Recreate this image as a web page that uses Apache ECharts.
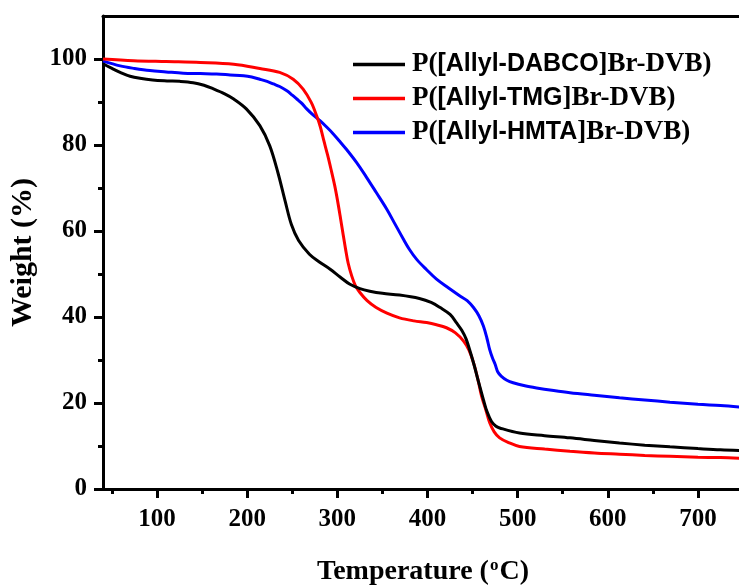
<!DOCTYPE html>
<html>
<head>
<meta charset="utf-8">
<script src="https://cdn.jsdelivr.net/npm/echarts@6/dist/echarts.min.js"></script>
<style>html,body{margin:0;padding:0;background:#fff;}#chart{width:739px;height:586px;}</style>
</head>
<body>
<div id="chart"></div>
<script>
// ---- data ----
var seriesNames = ['P([Allyl-DABCO]Br-DVB)', 'P([Allyl-TMG]Br-DVB)', 'P([Allyl-HMTA]Br-DVB)'];
var seriesColors = ['#000000', '#ff0000', '#0000ff'];

var dabcoT = [40, 50, 59, 70, 81, 95, 111, 125, 140, 152, 162, 175, 185, 199, 214, 225, 234, 242, 249, 257, 269, 280, 292, 303, 314, 325, 336, 350, 369, 391, 404, 414, 425, 432, 438, 443, 448, 452, 457, 462, 466, 471, 476, 480, 502, 530, 558, 585, 613, 641, 669, 700, 725, 750];
var dabcoW = [98.9, 97.8, 96.9, 96.0, 95.5, 95.1, 94.9, 94.8, 94.5, 93.9, 93.1, 91.9, 90.7, 88.4, 84.5, 79.8, 73.6, 67.0, 61.5, 57.8, 54.6, 52.8, 51.1, 49.3, 47.6, 46.6, 46.0, 45.5, 45.1, 44.3, 43.4, 42.2, 40.6, 38.7, 36.9, 34.8, 31.5, 28.6, 24.6, 20.8, 18.0, 15.7, 14.6, 14.2, 13.0, 12.4, 11.9, 11.3, 10.7, 10.2, 9.8, 9.4, 9.1, 8.9];

var tmgT = [40, 74, 110, 148, 185, 214, 236, 251, 262, 271, 277, 281, 285, 289, 293, 297, 300, 303, 306, 309, 312, 316, 320, 325, 333, 343, 355, 369, 385, 399, 410, 421, 431, 440, 446, 451, 456, 460, 465, 469, 474, 480, 490, 502, 530, 558, 585, 613, 641, 669, 700, 725, 750];
var tmgW = [100, 99.6, 99.4, 99.2, 98.8, 97.8, 96.9, 95.3, 93.0, 89.9, 86.8, 84.3, 81.0, 77.8, 74.3, 70.6, 67.3, 63.6, 59.7, 55.9, 52.5, 49.5, 47.3, 45.7, 43.8, 42.2, 40.9, 39.8, 39.1, 38.7, 38.2, 37.5, 36.3, 34.4, 32.3, 29.4, 25.4, 21.6, 18.2, 15.4, 13.3, 11.9, 10.8, 9.9, 9.3, 8.8, 8.4, 8.1, 7.8, 7.6, 7.4, 7.3, 7.1];

var hmtaT = [40, 59, 75, 92, 110, 129, 148, 166, 181, 196, 205, 214, 222, 229, 236, 244, 250, 255, 260, 266, 273, 281, 288, 295, 302, 310, 321, 332, 343, 355, 364, 373, 380, 388, 399, 410, 423, 436, 444, 451, 457, 462, 466, 469, 472, 475, 478, 482, 488, 495, 508, 521, 540, 558, 585, 613, 641, 669, 700, 725, 750];
var hmtaW = [99.5, 98.4, 97.8, 97.3, 97.0, 96.7, 96.6, 96.5, 96.3, 96.1, 95.8, 95.3, 94.8, 94.2, 93.6, 92.6, 91.6, 90.7, 89.8, 88.4, 87.0, 85.6, 84.2, 82.7, 81.0, 79.0, 76.0, 72.6, 69.0, 65.0, 61.6, 58.2, 55.7, 53.4, 51.0, 48.8, 46.8, 44.9, 43.8, 42.2, 40.3, 37.9, 35.0, 32.4, 30.5, 29.0, 27.2, 26.2, 25.3, 24.7, 24.0, 23.5, 22.9, 22.4, 21.8, 21.2, 20.7, 20.2, 19.7, 19.4, 19.0];

var xMajorTicks = [100, 200, 300, 400, 500, 600, 700];
var xMinorTicks = [50, 150, 250, 350, 450, 550, 650, 750];
var yMajorTicks = [0, 20, 40, 60, 80, 100];
var yMinorTicks = [10, 30, 50, 70, 90];

// ---- chart ----
function pairs(t, w) { return t.map(function (v, i) { return [v, w[i]]; }); }
var allT = [dabcoT, tmgT, hmtaT];
var allW = [dabcoW, tmgW, hmtaW];

var serif = '"Liberation Serif", "Times New Roman", serif';
var sans = '"Liberation Sans", Arial, sans-serif';

var chart = echarts.init(document.getElementById('chart'), null, { renderer: 'canvas' });

var axisLineStyle = { color: '#000', width: 3 };

var option = {
  backgroundColor: '#fff',
  animation: false,
  grid: { left: 103, right: -4, top: 16, bottom: 97, containLabel: false, outerBoundsMode: 'none' },
  legend: {
    orient: 'vertical',
    left: 353,
    top: 51,
    padding: 0,
    itemWidth: 52,
    itemHeight: 14,
    itemGap: 7,
    icon: 'path://M0,0 L52,0 L52,3.5 L0,3.5 Z',
    data: seriesNames,
    formatter: function (name) {
      var m = name.match(/^(P\()(\[Allyl-[A-Z]+)(\].*)$/);
      if (!m) return name;
      return '{a|' + m[1] + '}{b|' + m[2] + '}{a|' + m[3] + '}';
    },
    textStyle: {
      color: '#000',
      padding: [0, 0, 0, 2],
      rich: {
        a: { fontFamily: serif, fontWeight: 'bold', fontSize: 27, color: '#000' },
        b: { fontFamily: sans, fontWeight: 'bold', fontSize: 25, color: '#000' }
      }
    }
  },
  xAxis: [
    {
      type: 'value', position: 'bottom', min: 40, max: 750,
      name: 'Temperature ({sup|o}C)',
      nameLocation: 'middle', nameGap: 68,
      nameTextStyle: {
        fontFamily: serif, fontWeight: 'bold', fontSize: 28, color: '#000',
        rich: { sup: { fontFamily: serif, fontWeight: 'bold', fontSize: 17, color: '#000', verticalAlign: 'top', padding: [0, 1, 12, 1] } }
      },
      axisLine: { show: true, lineStyle: axisLineStyle },
      axisTick: { show: true, inside: false, length: 9, lineStyle: { color: '#000', width: 3 }, customValues: xMajorTicks },
      axisLabel: { show: true, margin: 18, fontFamily: serif, fontWeight: 'bold', fontSize: 25, color: '#000', customValues: xMajorTicks },
      splitLine: { show: false }
    },
    {
      type: 'value', position: 'bottom', min: 40, max: 750,
      axisLine: { show: false },
      axisTick: { show: true, inside: false, length: 5, lineStyle: { color: '#000', width: 3 }, customValues: xMinorTicks },
      axisLabel: { show: false },
      splitLine: { show: false }
    },
    {
      type: 'value', position: 'top', min: 40, max: 750,
      axisLine: { show: true, lineStyle: axisLineStyle },
      axisTick: { show: false },
      axisLabel: { show: false },
      splitLine: { show: false }
    }
  ],
  yAxis: [
    {
      type: 'value', position: 'left', min: 0, max: 110,
      name: 'Weight (%)',
      nameLocation: 'middle', nameGap: 50, nameRotate: 90,
      nameTextStyle: { fontFamily: serif, fontWeight: 'bold', fontSize: 30, color: '#000' },
      axisLine: { show: true, lineStyle: axisLineStyle },
      axisTick: { show: true, inside: false, length: 9, lineStyle: { color: '#000', width: 3 }, customValues: yMajorTicks },
      axisLabel: { show: true, margin: 16, fontFamily: serif, fontWeight: 'bold', fontSize: 25, color: '#000', customValues: yMajorTicks },
      splitLine: { show: false }
    },
    {
      type: 'value', position: 'left', min: 0, max: 110,
      axisLine: { show: false },
      axisTick: { show: true, inside: false, length: 5, lineStyle: { color: '#000', width: 3 }, customValues: yMinorTicks },
      axisLabel: { show: false },
      splitLine: { show: false }
    }
  ],
  series: seriesNames.map(function (n, i) {
    return {
      name: n,
      type: 'line',
      xAxisIndex: 0,
      yAxisIndex: 0,
      data: pairs(allT[i], allW[i]),
      symbol: 'none',
      smooth: 0.35,
      lineStyle: { color: seriesColors[i], width: 3 },
      itemStyle: { color: seriesColors[i] },
      z: 3 - i
    };
  })
};
chart.setOption(option);
</script>
</body>
</html>
